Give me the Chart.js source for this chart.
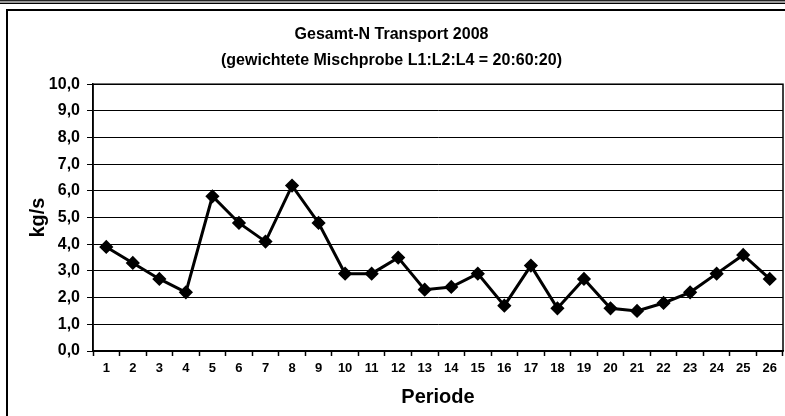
<!DOCTYPE html>
<html lang="de">
<head>
  <meta charset="UTF-8" />
  <title>Gesamt-N Transport 2008</title>
  <script src="https://cdn.jsdelivr.net/npm/chart.js"></script>
  <style>
    body { margin: 0; background: #fff; font-family: "Liberation Sans", Arial, sans-serif; }
    #band { position: absolute; left: 0; top: 0; width: 785px; height: 2px; background: #999;
            border-top: 1px solid #222; border-bottom: 1px solid #000; }
    #rahmen { position: absolute; left: 6px; top: 9px; width: 800px; height: 420px; border: 2px solid #000; }
    #grafico { position: absolute; left: 0; top: 0; }
  </style>
</head>
<body>
  <div id="band"></div>
  <div id="rahmen"></div>
  <canvas id="grafico" width="785" height="416"></canvas>

  <script>
    const perioden = ['1','2','3','4','5','6','7','8','9','10','11','12','13','14','15','16','17','18','19','20','21','22','23','24','25','26'];
    const werte = [3.9, 3.3, 2.7, 2.2, 5.8, 4.8, 4.1, 6.2, 4.8, 2.9, 2.9, 3.5, 2.3, 2.4, 2.9, 1.7, 3.2, 1.6, 2.7, 1.6, 1.5, 1.8, 2.2, 2.9, 3.6, 2.7];
    const titel = ['Gesamt-N Transport 2008', '(gewichtete Mischprobe L1:L2:L4 = 20:60:20)'];

    const schrift = '"Liberation Sans", Arial, sans-serif';

    // Rahmen um die Zeichenfläche
    const rahmenPlugin = {
      id: 'rahmenPlugin',
      afterDatasetsDraw(chart) {
        const { ctx, chartArea: a } = chart;
        ctx.save();
        ctx.strokeStyle = '#000';
        ctx.lineWidth = 1.5;
        ctx.strokeRect(a.left, a.top, a.right - a.left, a.bottom - a.top);
        ctx.restore();
      }
    };

    const ctx = document.getElementById('grafico').getContext('2d');
    new Chart(ctx, {
      type: 'line',
      data: {
        labels: perioden,
        datasets: [{
          data: werte,
          borderColor: '#000',
          backgroundColor: '#000',
          borderWidth: 3,
          pointStyle: 'rectRot',
          pointRadius: 5,
          pointBackgroundColor: '#000',
          tension: 0
        }]
      },
      options: {
        responsive: false,
        animation: false,
        layout: { autoPadding: false, padding: { left: 0, right: 2, top: 0, bottom: 0 } },
        plugins: {
          legend: { display: false },
          tooltip: { enabled: false },
          title: {
            display: true,
            text: titel,
            color: '#000',
            font: { family: schrift, size: 16, weight: 'bold', lineHeight: 1.6 },
            padding: { top: 22, bottom: 11 }
          }
        },
        scales: {
          x: {
            offset: true,
            grid: { offset: true, drawOnChartArea: false, color: '#000', tickLength: 5, tickWidth: 1.5 },
            border: { color: '#000', width: 1.5 },
            ticks: { color: '#000', font: { family: schrift, size: 13, weight: 'bold' }, padding: 5, maxRotation: 0, autoSkip: false },
            title: { display: true, text: 'Periode', color: '#000', font: { family: schrift, size: 20, weight: 'bold' }, padding: { top: 0, bottom: 7 } },
            afterFit(scale) {
              scale.height = 65;
              scale.paddingLeft = 0;
              scale.paddingRight = 0;
            }
          },
          y: {
            min: 0,
            max: 10,
            grid: { color: '#000', tickLength: 6, lineWidth: 1 },
            border: { color: '#000', width: 1.5 },
            ticks: {
              stepSize: 1,
              color: '#000',
              padding: 7,
              font: { family: schrift, size: 16, weight: 'bold' },
              callback: (v) => v.toFixed(1).replace('.', ',')
            },
            title: { display: true, text: 'kg/s', color: '#000', font: { family: schrift, size: 20, weight: 'bold' }, padding: { top: 26, bottom: 0 } },
            afterFit(scale) { scale.width = 93; }
          }
        }
      },
      plugins: [rahmenPlugin]
    });
  </script>
</body>
</html>
